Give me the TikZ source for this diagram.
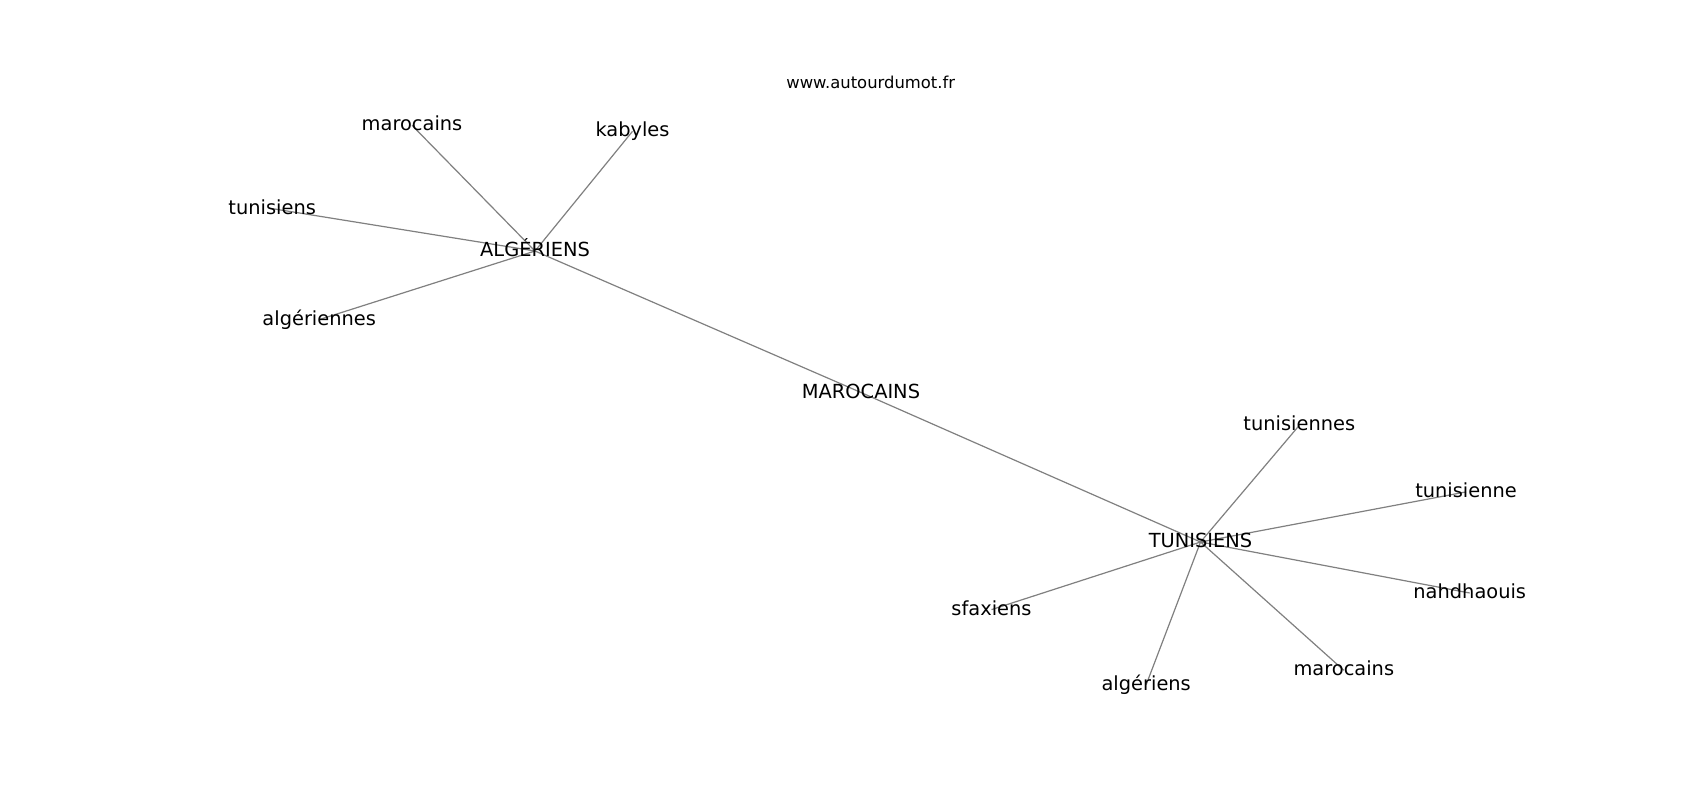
\documentclass[tikz,border=0pt]{standalone}
\usepackage{fontspec}
\setmainfont{DejaVu Sans}
\begin{document}
\begin{tikzpicture}[x=0.5pt,y=-0.5pt,
  lbl/.style={inner sep=0pt,anchor=center,text height=0.76em,text depth=0.208em,font=\fontsize{9.7pt}{11pt}\selectfont},
  ttl/.style={inner sep=0pt,anchor=center,text height=0.76em,text depth=0.208em,font=\fontsize{8.2pt}{10pt}\selectfont},
  edge/.style={draw=black!50,line width=0.6pt}]
\useasboundingbox (0,0) rectangle (1700,800);
\fill[white] (0,0) rectangle (1700,800);
% node positions
\coordinate (alg) at (535,251);
\coordinate (mar) at (861,392.5);
\coordinate (tun) at (1200.5,542);
\coordinate (a1) at (412,125.3);
\coordinate (a2) at (632.5,131.3);
\coordinate (a3) at (272.2,208.6);
\coordinate (a4) at (319.2,319.6);
\coordinate (t1) at (1299.3,425.3);
\coordinate (t2) at (1466,491.9);
\coordinate (t3) at (1469.7,593);
\coordinate (t4) at (1343.8,670.3);
\coordinate (t5) at (1146.2,684.6);
\coordinate (t6) at (991.5,609.6);
% edges
\draw[edge] (alg) -- (mar);
\draw[edge] (mar) -- (tun);
\foreach \n in {a1,a2,a3,a4} \draw[edge] (alg) -- (\n);
\foreach \n in {t1,t2,t3,t4,t5,t6} \draw[edge] (tun) -- (\n);
% labels
\node[ttl] (title) at (870.7,83.2) {www.autourdumot.fr};
\node[lbl] (nalg) at (alg) {ALGÉRIENS};
\node[lbl] (nmar) at (mar) {MAROCAINS};
\node[lbl] (ntun) at (tun) {TUNISIENS};
\node[lbl] (na1) at (a1) {marocains};
\node[lbl] (na2) at (a2) {kabyles};
\node[lbl] (na3) at (a3) {tunisiens};
\node[lbl] (na4) at (a4) {algériennes};
\node[lbl] (nt1) at (t1) {tunisiennes};
\node[lbl] (nt2) at (t2) {tunisienne};
\node[lbl] (nt3) at (t3) {nahdhaouis};
\node[lbl] (nt4) at (t4) {marocains};
\node[lbl] (nt5) at (t5) {algériens};
\node[lbl] (nt6) at (t6) {sfaxiens};
\end{tikzpicture}
\end{document}
